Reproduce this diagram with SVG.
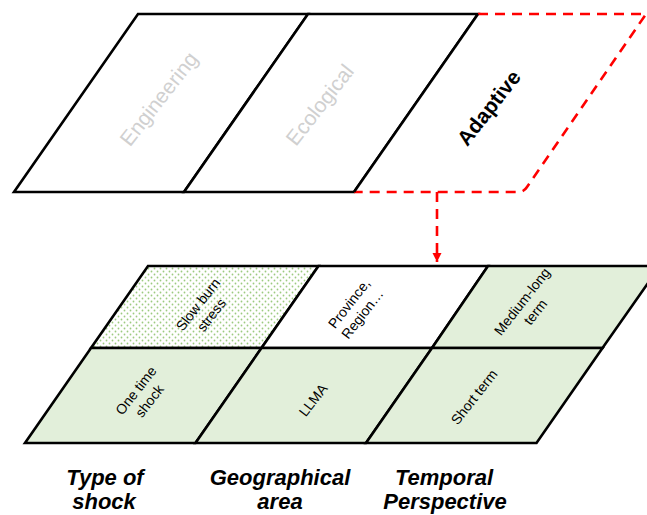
<svg xmlns="http://www.w3.org/2000/svg" width="647" height="515" viewBox="0 0 647 515">
<style>
.cell{stroke:#000;stroke-width:2.6;stroke-linejoin:miter}
.green{fill:#E2EFDA}
.white{fill:#fff}
.dashred{fill:none;stroke:#FF0000;stroke-width:2.6;stroke-dasharray:10 7}
.big{font-family:"Liberation Sans",Arial,sans-serif;font-size:21px;text-anchor:middle}
.gray{fill:#D0D0D0}
.small{font-family:"Liberation Sans",Arial,sans-serif;font-size:14px;text-anchor:middle;fill:#000}
.lbl{font-family:"Liberation Sans",Arial,sans-serif;font-size:22px;font-weight:bold;font-style:italic;text-anchor:middle;fill:#000}
</style>
<defs>
<pattern id="dots" width="6" height="6" patternUnits="userSpaceOnUse">
<rect width="6" height="6" fill="#fff"/>
<circle cx="1.5" cy="1.5" r="0.9" fill="#9CCB80"/>
<circle cx="4.5" cy="4.5" r="0.9" fill="#9CCB80"/>
</pattern>
<marker id="arr" viewBox="0 0 10 10" refX="10" refY="5" markerWidth="3.6" markerHeight="3.6" orient="auto" markerUnits="strokeWidth">
<path d="M0,0 L10,5 L0,10 z" fill="#FF0000"/>
</marker>
</defs>

<g id="engineering">
<polygon class="cell white" points="138,14 308,14 184,192 14,192"/>
<g transform="translate(159,99) rotate(-52)"><text class="big gray" x="0" y="7">Engineering</text></g>
</g>
<g id="ecological">
<polygon class="cell white" points="308,14 478,14 354,192 184,192"/>
<g transform="translate(320,105) rotate(-52)"><text class="big gray" x="0" y="7">Ecological</text></g>
</g>
<g id="adaptive">
<polygon points="478,14 646,14 524,192 354,192" fill="#fff"/>
<path class="dashred" d="M478,14 L646,14 L527,187 Q524,192 518,192 L354,192"/>
<line x1="478" y1="14" x2="354" y2="192" stroke="#000" stroke-width="2.6"/>
<g transform="translate(489,108) rotate(-52)"><text class="big" x="0" y="7" font-weight="bold" fill="#000">Adaptive</text></g>
</g>

<g id="connectors">
<path d="M437,192 L437,262" fill="none" stroke="#FF0000" stroke-width="2.6" stroke-dasharray="10 7" marker-end="url(#arr)"/>
</g>

<g id="slow-burn">
<polygon class="cell" fill="url(#dots)" points="148,266 318.5,266 261.5,348 91,348"/>
<g transform="translate(205,310) rotate(-52)"><text class="small"><tspan x="0" y="-4">Slow burn</tspan><tspan x="0" y="13">stress</tspan></text></g>
</g>
<g id="province">
<polygon class="cell white" points="318.5,266 488,266 432,348 261.5,348"/>
<g transform="translate(356,309) rotate(-52)"><text class="small"><tspan x="0" y="-4">Province,</tspan><tspan x="0" y="13">Region…</tspan></text></g>
</g>
<g id="medium-long">
<polygon class="cell green" points="488,266 660,266 602.5,348 432,348"/>
<g transform="translate(529,307) rotate(-52)"><text class="small"><tspan x="0" y="-4">Medium-long</tspan><tspan x="0" y="13">term</tspan></text></g>
</g>
<g id="one-time">
<polygon class="cell green" points="91,348 261.5,348 195.5,443 25,443"/>
<g transform="translate(143,396) rotate(-52)"><text class="small"><tspan x="0" y="-4">One time</tspan><tspan x="0" y="13">shock</tspan></text></g>
</g>
<g id="llma">
<polygon class="cell green" points="261.5,348 432,348 366,443 195.5,443"/>
<g transform="translate(313,400) rotate(-52)"><text class="small" x="0" y="5">LLMA</text></g>
</g>
<g id="short-term">
<polygon class="cell green" points="432,348 602.5,348 536.5,443 366,443"/>
<g transform="translate(474,397) rotate(-52)"><text class="small" x="0" y="5">Short term</text></g>
</g>

<g id="label-type">
<text class="lbl"><tspan x="105" y="485">Type of</tspan><tspan x="104" y="509">shock</tspan></text>
</g>
<g id="label-geo">
<text class="lbl"><tspan x="280" y="485">Geographical</tspan><tspan x="280" y="509">area</tspan></text>
</g>
<g id="label-temporal">
<text class="lbl"><tspan x="444" y="485">Temporal</tspan><tspan x="445" y="509">Perspective</tspan></text>
</g>
</svg>
